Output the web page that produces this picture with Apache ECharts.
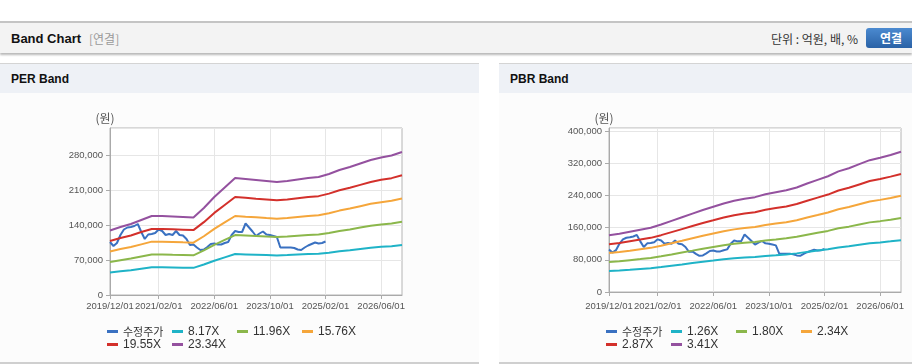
<!DOCTYPE html>
<html><head><meta charset="utf-8">
<script src="https://cdn.jsdelivr.net/npm/echarts@6/dist/echarts.min.js"></script>
<style>
html,body{margin:0;padding:0;width:912px;height:364px;overflow:hidden;background:#fff;font-family:"Liberation Sans","Noto Sans CJK KR",sans-serif;}
#top{position:absolute;left:0;top:21px;width:912px;height:30px;background:#f3f3f3;border-top:2px solid #c4c4c4;box-shadow:0 2px 2px rgba(0,0,0,0.28);}
#title{position:absolute;left:11px;top:1px;line-height:30px;font-weight:bold;font-size:13px;font-family:"Liberation Sans",sans-serif;color:#111;}
#sub{position:absolute;left:89px;top:1px;line-height:30px;font-size:12px;color:#9a9a9a;font-family:"Noto Sans CJK KR",sans-serif;}
#unit{position:absolute;right:54px;top:1px;line-height:30px;font-size:12px;color:#333;font-family:"Noto Sans CJK KR",sans-serif;}
#btn{position:absolute;left:866px;top:5px;width:52px;height:20px;border-radius:3px;background:linear-gradient(#4b8ad0,#2a62a6);color:#fff;font-weight:bold;font-size:12px;line-height:20px;padding-left:14px;box-sizing:border-box;font-family:"Noto Sans CJK KR",sans-serif;}
.panel{position:absolute;top:63px;height:301px;width:479px;background:#fcfcfc;border-top:1px solid #d4d4d4;border-bottom:2px solid #cfcfcf;box-sizing:border-box;}
.ph{position:absolute;left:0;top:0;width:100%;height:29px;background:#eef1f6;}
.pt{position:absolute;left:11px;top:1px;line-height:29px;font-weight:bold;font-size:12px;font-family:"Liberation Sans",sans-serif;color:#111;}
.chart{position:absolute;left:0;top:29px;width:479px;height:269px;}
</style>
</head><body>
<div id="top"><span id="title">Band Chart</span><span id="sub">[연결]</span><span id="unit">단위 : 억원, 배, %</span><div id="btn">연결</div></div>
<div class="panel" style="left:0"><div class="ph"><span class="pt">PER Band</span></div><div class="chart" id="per"></div></div>
<div class="panel" style="left:499px"><div class="ph"><span class="pt">PBR Band</span></div><div class="chart" id="pbr"></div></div>
<script>
// ---- categories (monthly) and tick labels ----
const months = [];
for (let y = 2019, m = 12; !(y === 2027 && m === 1);) {
  months.push(y + '/' + String(m).padStart(2, '0') + '/01');
  m++; if (m > 12) { m = 1; y++; }
}
const xTickLabels = ['2019/12/01', '2021/02/01', '2022/06/01', '2023/10/01', '2025/02/01', '2026/06/01'];

// ---- adjusted stock price (monthly, from 2019/12) ----
const price = [106000, 98000, 104000, 120000, 131000, 135000, 136000, 138000, 142000, 126000,
  112000, 121000, 122000, 124000, 131000, 128000, 120000, 122000, 120000, 128000,
  120000, 119000, 112000, 100000, 101000, 95000, 90000, 91000, 96000, 102000,
  103000, 101000, 101000, 104000, 106000, 120000, 128000, 126000, 126000, 143000,
  135000, 127000, 118000, 123000, 127000, 121000, 120000, 118000, 116000, 95000,
  95000, 95000, 95000, 94000, 91000, 90000, 95000, 99000, 102000, 105000,
  103000, 104000, 107000];

// ---- band values, every 3 months from 2019/12 ----
const perNames = ['8.17X', '11.96X', '15.76X', '19.55X', '23.34X'];
const per817 = [45200, 47600, 49700, 52500, 55300, 55300, 55000, 54600, 54300, 60900, 68600, 75300, 81900, 81200, 80500, 79800, 79100, 79800, 80900, 81900, 82600, 84700, 87500, 89600, 92100, 94500, 96300, 97700, 100100];
const per1196 = [66100, 69700, 72800, 76900, 81000, 81000, 80400, 79900, 79400, 89200, 100400, 110200, 119900, 118900, 117900, 116800, 115800, 116800, 118400, 119900, 120900, 124000, 128100, 131200, 134800, 138300, 140900, 143000, 146500];
const per1576 = [87100, 91800, 95900, 101300, 106700, 106700, 106000, 105300, 104700, 117500, 132300, 145200, 158000, 156600, 155300, 153900, 152600, 153900, 156000, 158000, 159300, 163400, 168800, 172900, 177600, 182300, 185700, 188400, 193100];
const per1955 = [108000, 114000, 119000, 126000, 132000, 132000, 131500, 130700, 129800, 145700, 164200, 180100, 196000, 194300, 192600, 191000, 189300, 191000, 193500, 196000, 197700, 202700, 209400, 214400, 220300, 226100, 230300, 233700, 239600];
const per2334 = [129000, 136000, 142000, 150000, 158000, 158000, 157000, 156000, 155000, 174000, 196000, 215000, 234000, 232000, 230000, 228000, 226000, 228000, 231000, 234000, 236000, 242000, 250000, 256000, 263000, 270000, 275000, 279000, 286000];

const pbrNames = ['1.26X', '1.80X', '2.34X', '2.87X', '3.41X'];
const pbr126 = [52100, 53600, 55400, 57300, 59100, 62100, 65400, 68700, 72100, 75400, 78300, 81300, 83900, 85700, 87200, 89800, 91600, 93500, 96100, 99800, 103100, 106400, 110900, 113800, 117500, 121200, 123400, 126000, 129000];
const pbr180 = [74400, 76500, 79200, 81800, 84500, 88700, 93400, 98200, 102900, 107700, 111900, 116100, 119800, 122500, 124600, 128300, 130900, 133600, 137300, 142500, 147300, 152000, 158400, 162600, 167900, 173200, 176300, 180000, 184200];
const pbr234 = [96800, 99500, 102900, 106400, 109800, 115300, 121500, 127600, 133800, 140000, 145500, 151000, 155800, 159200, 161900, 166700, 170200, 173600, 178400, 185300, 191400, 197600, 205900, 211300, 218200, 225100, 229200, 234000, 239500];
const pbr287 = [118700, 122000, 126200, 130400, 134700, 141400, 149000, 156500, 164100, 171700, 178400, 185200, 191000, 195300, 198600, 204500, 208700, 212900, 218800, 227200, 234800, 242400, 252500, 259200, 267600, 276000, 281100, 287000, 293700];
const pbr341 = [141000, 145000, 150000, 155000, 160000, 168000, 177000, 186000, 195000, 204000, 212000, 220000, 227000, 232000, 236000, 243000, 248000, 253000, 260000, 270000, 279000, 288000, 300000, 308000, 318000, 328000, 334000, 341000, 349000];

const perTicks = { max: 334000, interval: 70000 };
const pbrTicks = { max: 408000, interval: 80000 };

const colors = ['#3a71c1', '#1fb3c7', '#8bb74b', '#f5a63b', '#d3302b', '#94519f'];

function placeQuarterly(arr) {
  const out = new Array(months.length).fill(null);
  arr.forEach((v, i) => { out[i * 3] = v; });
  return out;
}
function padPrice(arr) {
  const out = new Array(months.length).fill(null);
  arr.forEach((v, i) => { out[i] = v; });
  return out;
}
const isTick = (i) => xTickLabels.indexOf(months[i]) >= 0;
const lat = '"Liberation Sans",Arial,sans-serif';

function makeOption(names, bands, ticks, gridH, xMargin) {
  const allNames = ['수정주가'].concat(names);
  const series = [{
    name: '수정주가', type: 'line', data: padPrice(price), symbol: 'none', showSymbol: false,
    lineStyle: { width: 2, color: colors[0] }, itemStyle: { color: colors[0] }
  }];
  bands.forEach((b, k) => series.push({
    name: names[k], type: 'line', data: placeQuarterly(b), connectNulls: true, symbol: 'none', showSymbol: false,
    lineStyle: { width: 2, color: colors[k + 1] }, itemStyle: { color: colors[k + 1] }
  }));
  return {
    animation: false,
    color: colors,
    grid: { left: 110, top: 35, width: 292, height: gridH, show: true, borderColor: '#b4b4b4', borderWidth: 1, backgroundColor: '#fff', containLabel: false },
    graphic: [{ type: 'text', x: 105, y: 25, style: { text: '(원)', align: 'center', verticalAlign: 'middle', fontSize: 12, fill: '#555', fontFamily: '"Noto Sans CJK KR",sans-serif' } }],
    legend: {
      data: allNames, left: 107, top: 232, width: 262, padding: 0, itemGap: 0,
      itemWidth: 11, itemHeight: 3, icon: 'rect',
      formatter: (n) => n === '수정주가' ? '{k|수정주가}' : '{a|' + n + '}',
      textStyle: { fontSize: 12, fontFamily: lat, color: '#333', lineHeight: 13,
        rich: {
          k: { width: 49, fontSize: 11, lineHeight: 13, fontFamily: '"Noto Sans CJK KR",sans-serif', color: '#333' },
          a: { width: 49, fontSize: 12, lineHeight: 13, fontFamily: lat, color: '#333' }
        } }
    },
    xAxis: {
      type: 'category', data: months, boundaryGap: false,
      axisLine: { lineStyle: { color: '#aaa' } },
      axisTick: { show: true, length: 4, interval: (i) => isTick(i), lineStyle: { color: '#aaa' } },
      axisLabel: { interval: (i) => isTick(i), showMinLabel: true, margin: xMargin, fontSize: 9.5, fontFamily: lat, color: '#555' },
      splitLine: { show: true, interval: (i) => isTick(i), lineStyle: { color: '#e6e6e6' } }
    },
    yAxis: {
      type: 'value', min: 0, max: ticks.max, interval: ticks.interval,
      axisLine: { show: true, lineStyle: { color: '#aaa' } },
      axisTick: { show: true, length: 4, lineStyle: { color: '#aaa' } },
      axisLabel: { margin: 7, fontSize: 9.5, fontFamily: lat, color: '#555', showMaxLabel: false,
        formatter: (v) => v.toLocaleString('en-US') },
      splitLine: { lineStyle: { color: '#e6e6e6' } }
    },
    series: series
  };
}

const perChart = echarts.init(document.getElementById('per'), null, { renderer: 'canvas' });
perChart.setOption(makeOption(perNames, [per817, per1196, per1576, per1955, per2334], perTicks, 167, 6));
const pbrChart = echarts.init(document.getElementById('pbr'), null, { renderer: 'canvas' });
pbrChart.setOption(makeOption(pbrNames, [pbr126, pbr180, pbr234, pbr287, pbr341], pbrTicks, 164, 9));
</script>
</body></html>
